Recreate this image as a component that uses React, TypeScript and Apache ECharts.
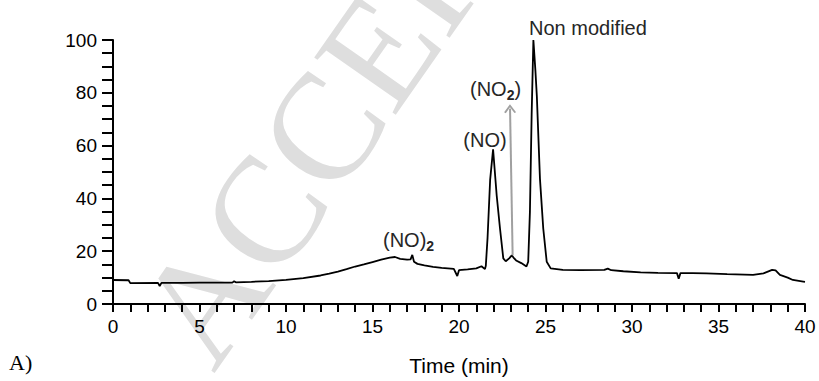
import React, { useEffect, useRef } from "react";
import * as echarts from "echarts";

// Retention time (min) and detector signal (%)
const times = [
  0, 0.9, 1.0, 2.6, 2.7, 2.8, 4, 5, 6, 6.9, 7.0, 7.1, 8, 9, 10, 11, 12, 12.5, 13, 13.5,
  14, 14.5, 15, 15.5, 16, 16.3, 16.6, 17, 17.2, 17.3, 17.4, 17.6, 18, 18.5, 19, 19.7,
  19.9, 20.0, 20.5, 21.0, 21.3, 21.5, 21.55, 21.65, 21.8, 21.97, 22.18, 22.37, 22.56,
  22.7, 22.9, 23.05, 23.15, 23.3, 23.6, 23.9, 24.0, 24.1, 24.2, 24.3, 24.42, 24.5,
  24.68, 24.87, 25.07, 25.3, 26, 27, 28.4, 28.6, 28.8, 29.5, 30.5, 31.5, 32.6, 32.7,
  32.8, 33.5, 34.3, 35.5, 37, 37.6, 38.1, 38.3, 38.55, 39, 39.3, 39.9, 40,
];
const signal = [
  9.1, 9.0, 7.9, 8.0, 6.8, 8.0, 8.0, 8.1, 8.1, 8.1, 8.6, 8.2, 8.4, 8.7, 9.1, 9.8, 10.8, 11.5, 12.3, 13.2,
  14.2, 15.0, 15.9, 16.8, 17.6, 17.8, 17.1, 16.8, 16.9, 18.6, 16.0, 15.2, 14.6, 14.1, 13.7, 13.3,
  10.6, 12.8, 13.1, 13.5, 14.3, 13.2, 14.5, 25, 47, 58.6, 41, 28.6, 17.3,
  16.2, 17.3, 18.4, 17.6, 16.5, 15.5, 14.2, 16, 35, 72, 100, 88, 78.7,
  47.4, 28.6, 16, 13.5, 12.9, 12.8, 12.9, 13.4, 12.8, 12.4, 12.0, 11.8, 11.7, 9.6,
  11.7, 11.7, 11.6, 11.3, 11.0, 11.6, 12.9, 12.7, 11.0, 10.0, 9.1, 8.5, 8.4,
];

// (NO2) arrow: from base (time, signal) to tip
const arrowFrom = [23.1, 18.5];
const arrowTo = [22.95, 74];

const xTicks = { min: 0, max: 40, interval: 5 };
const yTicks = { min: 0, max: 100, interval: 20 };

const SANS = "'Liberation Sans', Arial, Helvetica, sans-serif";
const SERIF = "'Liberation Serif', 'Times New Roman', serif";

export default function App() {
  const ref = useRef<HTMLDivElement>(null);

  useEffect(() => {
    document.body.style.margin = "0";
    if (!ref.current) return;
    const chart = echarts.init(ref.current, null, { renderer: "svg" });
    const data = times.map((t, i) => [t, signal[i]]);
    const axisLineStyle = { color: "#000", width: 2 };
    const annColor = "#262626";
    const subRich = {
      m: { fontSize: 20, fontFamily: SANS, lineHeight: 20, verticalAlign: "top", fill: annColor, color: annColor },
      s: { fontSize: 14, fontFamily: SANS, fontWeight: "bold", lineHeight: 14, padding: [9, 0, 0, 0], verticalAlign: "top", fill: annColor, color: annColor },
    };

    chart.setOption({
      animation: false,
      backgroundColor: "#fff",
      grid: { left: 113, right: 14, top: 40, bottom: 75, containLabel: false },
      xAxis: {
        type: "value",
        min: xTicks.min,
        max: xTicks.max,
        interval: xTicks.interval,
        name: "Time (min)",
        nameLocation: "middle",
        nameGap: 51,
        nameTextStyle: { fontSize: 21, color: "#000", fontFamily: SANS },
        axisLine: { show: true, lineStyle: axisLineStyle },
        axisTick: { show: true, length: 8, lineStyle: axisLineStyle },
        minorTick: { show: true, splitNumber: 5, length: 8, lineStyle: axisLineStyle },
        axisLabel: { fontSize: 19, color: "#000", margin: 13, fontFamily: SANS },
        splitLine: { show: false },
        minorSplitLine: { show: false },
      },
      yAxis: {
        type: "value",
        min: yTicks.min,
        max: yTicks.max,
        interval: yTicks.interval,
        axisLine: { show: true, lineStyle: axisLineStyle },
        axisTick: { show: true, length: 11, lineStyle: axisLineStyle },
        minorTick: { show: true, splitNumber: 4, length: 11, lineStyle: axisLineStyle },
        axisLabel: { fontSize: 19, color: "#000", margin: 16, fontFamily: SANS },
        splitLine: { show: false },
        minorSplitLine: { show: false },
      },
      series: [
        {
          type: "line",
          data,
          showSymbol: false,
          symbol: "none",
          z: 3,
          lineStyle: { color: "#000", width: 1.8 },
          markLine: {
            silent: true,
            animation: false,
            symbol: ["none", "path://M0,9 L5,0 L10,9 L8.6,10 L5,3.4 L1.4,10 Z"],
            symbolSize: [12, 9],
            lineStyle: { color: "#a0a0a0", width: 2, type: "solid" },
            label: { show: false },
            emphasis: { disabled: true },
            data: [[{ coord: arrowFrom }, { coord: arrowTo }]],
          },
        },
      ],
      graphic: [
        {
          type: "text",
          z: -10,
          x: 172,
          y: 345,
          rotation: (55 * Math.PI) / 180,
          silent: true,
          style: {
            text: "ACCEPTED MANUSCRIPT",
            font: `152px ${SERIF}`,
            fill: "#dedede",
            textAlign: "left",
            textVerticalAlign: "middle",
            align: "left",
            verticalAlign: "middle",
          },
        },
        {
          type: "text",
          x: 529,
          y: 28,
          z: 10,
          style: {
            text: "Non modified",
            font: `20px ${SANS}`,
            fill: annColor,
            textAlign: "left",
            textVerticalAlign: "middle",
            align: "left",
            verticalAlign: "middle",
          },
        },
        {
          type: "text",
          x: 485,
          y: 140,
          z: 10,
          style: {
            text: "(NO)",
            font: `20px ${SANS}`,
            fill: annColor,
            textAlign: "center",
            textVerticalAlign: "middle",
            align: "center",
            verticalAlign: "middle",
          },
        },
        {
          type: "text",
          x: 470,
          y: 79,
          z: 10,
          style: {
            text: "{m|(NO}{s|2}{m|)}",
            fill: annColor,
            textAlign: "left",
            textVerticalAlign: "top",
            align: "left",
            verticalAlign: "top",
            rich: subRich,
          },
        },
        {
          type: "text",
          x: 383,
          y: 230,
          z: 10,
          style: {
            text: "{m|(NO)}{s|2}",
            fill: annColor,
            textAlign: "left",
            textVerticalAlign: "top",
            align: "left",
            verticalAlign: "top",
            rich: subRich,
          },
        },
        {
          type: "text",
          x: 9,
          y: 362,
          z: 10,
          style: {
            text: "A)",
            font: `22px ${SERIF}`,
            fill: "#000",
            textAlign: "left",
            textVerticalAlign: "middle",
            align: "left",
            verticalAlign: "middle",
          },
        },
      ],
    });

    return () => chart.dispose();
  }, []);

  return <div ref={ref} style={{ width: 819, height: 381 }} />;
}
